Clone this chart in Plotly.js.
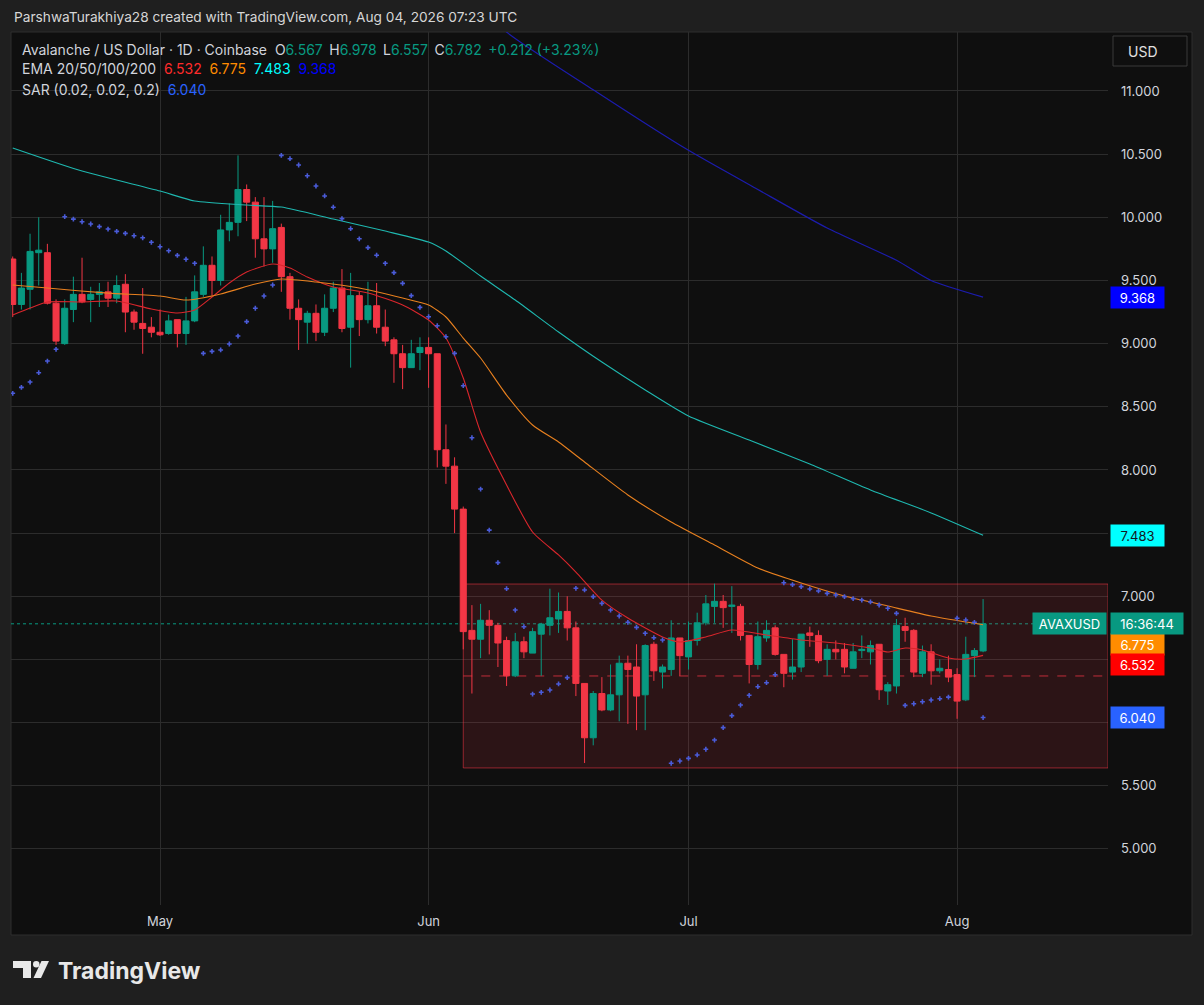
<!DOCTYPE html>
<html><head><meta charset="utf-8">
<script src="https://cdn.plot.ly/plotly-3.0.1.min.js"></script>
<style>html,body{margin:0;padding:0;background:#1f1f1f;}#chart{width:1204px;height:1005px;}</style>
</head><body><div id="chart"></div>
<script>
// ---------- DATA ----------
const firstDay = '2026-04-14';
const open  = [9.67,9.31,9.43,9.72,9.72,9.32,9.00,9.27,9.39,9.35,9.39,9.41,9.36,9.47,9.25,9.16,9.13,
 9.09,9.08,9.19,9.08,9.18,9.39,9.62,9.50,9.90,9.96,10.22,10.12,9.83,9.75,9.92,9.53,9.28,9.17,9.24,9.09,9.28,9.44,9.13,9.38,9.19,9.30,9.13,9.03,8.92,8.81,8.93,
 8.97,8.92,8.16,8.03,7.69,6.73,6.66,6.81,6.77,6.65,6.37,6.64,6.55,6.70,6.77,6.82,6.88,6.75,6.31,5.88,6.23,6.10,6.22,6.47,6.44,6.22,6.62,6.40,6.42,6.67,
 6.52,6.65,6.79,6.92,6.96,6.92,6.92,6.69,6.46,6.67,6.75,6.54,6.40,6.44,6.71,6.69,6.50,6.58,6.58,6.43,6.57,6.56,6.62,6.25,6.29,6.76,6.73,6.39,6.56,6.41,6.42,
 6.38,6.18,6.53,6.567];
const high  = [9.69,9.56,9.87,10.00,9.79,9.35,9.35,9.53,9.68,9.45,9.48,9.49,9.54,9.55,9.27,9.44,9.21,
 9.27,9.23,9.19,9.37,9.54,9.77,9.69,10.02,10.11,10.49,10.26,10.16,10.16,10.13,9.95,9.56,9.35,9.26,9.31,9.39,9.49,9.59,9.56,9.41,9.49,9.48,9.27,9.05,8.99,9.03,9.05,
 9.05,8.92,8.36,8.10,7.71,6.93,6.94,6.89,6.79,6.68,6.71,6.68,6.75,6.79,7.06,7.03,7.00,6.80,6.31,6.25,6.36,6.46,6.53,6.53,6.62,6.62,6.64,6.46,6.81,6.67,
 6.80,6.87,7.01,7.10,7.01,7.08,6.94,6.69,6.80,6.81,6.77,6.54,6.66,6.70,6.76,6.73,6.62,6.65,6.63,6.63,6.69,6.65,6.62,6.32,6.82,6.83,6.74,6.61,6.62,6.50,6.53,
 6.43,6.68,6.59,6.978];
const low   = [9.21,9.27,9.27,9.46,9.31,8.99,8.99,9.17,9.32,9.17,9.29,9.29,9.32,9.09,9.11,8.92,9.05,
 9.06,9.07,8.97,8.99,9.17,9.37,9.38,9.46,9.81,9.85,9.97,9.68,9.61,9.64,9.41,9.19,8.95,9.00,9.02,9.06,9.25,9.09,8.81,9.06,9.16,9.08,8.98,8.69,8.64,8.81,8.79,
 8.65,8.02,7.89,7.50,6.58,6.23,6.51,6.54,6.44,6.29,6.36,6.51,6.55,6.37,6.69,6.71,6.65,6.21,5.68,5.82,6.09,6.09,6.01,5.99,5.94,5.94,6.33,6.27,6.37,6.37,
 6.42,6.61,6.77,6.79,6.75,6.71,6.65,6.31,6.42,6.64,6.53,6.28,6.34,6.40,6.60,6.47,6.37,6.50,6.39,6.43,6.51,6.46,6.18,6.14,6.23,6.64,6.36,6.36,6.30,6.39,6.32,
 6.03,6.17,6.36,6.557];
const close = [9.31,9.44,9.73,9.74,9.32,9.02,9.28,9.39,9.33,9.39,9.41,9.36,9.46,9.25,9.17,9.12,9.09,
 9.07,9.18,9.08,9.18,9.41,9.62,9.50,9.90,9.96,10.22,10.12,9.83,9.75,9.91,9.53,9.28,9.19,9.24,9.09,9.28,9.44,9.12,9.38,9.19,9.30,9.13,9.02,8.92,8.81,8.92,8.97,
 8.92,8.16,8.03,7.69,6.72,6.66,6.81,6.77,6.63,6.37,6.64,6.56,6.72,6.78,6.83,6.88,6.75,6.31,5.88,6.23,6.10,6.22,6.47,6.42,6.21,6.61,6.41,6.44,6.67,6.53,
 6.65,6.79,6.94,6.96,6.91,6.93,6.69,6.46,6.68,6.73,6.54,6.39,6.44,6.70,6.69,6.49,6.58,6.56,6.44,6.56,6.58,6.61,6.26,6.30,6.77,6.73,6.40,6.56,6.41,6.43,6.36,
 6.17,6.54,6.57,6.782];
const sar = [8.607,8.654,8.696,8.77,8.862,8.955,10.005,9.986,9.965,9.947,9.926,9.907,9.889,9.873,9.854,9.838,9.802,
 9.767,9.735,9.699,9.668,9.636,8.923,8.939,8.95,8.997,9.06,9.174,9.28,9.377,9.464,10.49,10.464,10.414,10.329,10.248,10.169,10.08,9.99,9.91,9.83,9.76,9.70,9.636,9.562,9.477,9.38,9.287,
 9.213,9.142,9.055,8.923,8.667,8.255,7.849,7.524,7.266,7.06,6.891,6.759,6.226,6.24,6.258,6.306,6.356,7.063,7.05,6.997,6.944,6.891,6.844,6.794,6.754,6.707,6.672,6.654,5.678,5.696,
 5.717,5.744,5.789,5.862,5.96,6.055,6.139,6.216,6.284,6.316,6.379,7.107,7.092,7.076,7.058,7.042,7.023,7.01,6.997,6.981,6.97,6.955,6.931,6.905,6.865,6.136,6.149,6.165,6.179,6.189,6.202,
 6.826,6.812,6.794,6.04];

const ema20Dates = ['2026-04-14','2026-04-16','2026-04-18','2026-04-22','2026-04-26','2026-04-30','2026-05-03','2026-05-05','2026-05-07','2026-05-09','2026-05-11','2026-05-14','2026-05-16','2026-05-18','2026-05-21','2026-05-25','2026-05-29','2026-06-01','2026-06-03','2026-06-05','2026-06-07','2026-06-10','2026-06-13','2026-06-16','2026-06-18','2026-06-21','2026-06-24','2026-06-28','2026-06-30','2026-07-03','2026-07-06','2026-07-10','2026-07-14','2026-07-18','2026-07-22','2026-07-24','2026-07-26','2026-07-28','2026-07-31','2026-08-02','2026-08-04'];
const ema20 = [9.227,9.282,9.33,9.33,9.337,9.274,9.242,9.266,9.369,9.48,9.567,9.63,9.598,9.527,9.448,9.401,9.306,9.187,9.044,8.728,8.30,7.881,7.509,7.327,7.192,6.97,6.828,6.678,6.638,6.678,6.733,6.693,6.654,6.63,6.59,6.559,6.59,6.575,6.511,6.503,6.532];

const ema50Dates = ['2026-04-14','2026-04-18','2026-04-25','2026-05-01','2026-05-04','2026-05-08','2026-05-12','2026-05-15','2026-05-19','2026-05-24','2026-05-29','2026-06-01','2026-06-03','2026-06-05','2026-06-07','2026-06-10','2026-06-13','2026-06-16','2026-06-19','2026-06-24','2026-06-29','2026-07-04','2026-07-09','2026-07-14','2026-07-19','2026-07-24','2026-07-29','2026-08-04'];
const ema50 = [9.464,9.44,9.40,9.377,9.345,9.393,9.472,9.512,9.488,9.44,9.361,9.306,9.211,9.044,8.886,8.593,8.356,8.221,8.063,7.802,7.588,7.406,7.224,7.105,7.002,6.923,6.844,6.775];

const ema100Dates = ['2026-04-14','2026-04-22','2026-05-01','2026-05-05','2026-05-11','2026-05-15','2026-05-21','2026-05-27','2026-06-01','2026-06-03','2026-06-07','2026-06-11','2026-06-16','2026-06-21','2026-06-26','2026-07-01','2026-07-08','2026-07-15','2026-07-22','2026-07-29','2026-08-04'];
const ema100 = [10.549,10.366,10.208,10.129,10.097,10.081,9.986,9.891,9.804,9.733,9.535,9.345,9.092,8.854,8.633,8.427,8.237,8.047,7.841,7.66,7.483];

const ema200Dates = ['2026-06-06','2026-06-10','2026-06-20','2026-07-01','2026-07-09','2026-07-17','2026-07-25','2026-07-29','2026-08-04'];
const ema200 = [11.75,11.467,11.01,10.53,10.22,9.915,9.66,9.50,9.368];

const rangeStart = '2026-06-05', rangeTop = 7.097, rangeBottom = 5.641;
const lastPrice = 6.782, lastEma20 = 6.532, lastEma50 = 6.775, lastEma100 = 7.483, lastEma200 = 9.368, lastSar = 6.040;
const yTicks = [5,5.5,6,6.5,7,7.5,8,8.5,9,9.5,10,10.5,11];
const yTicksHidden = [6,6.5,7.5];   // covered by the price labels in the original

// ---------- BUILD ----------
const dates = [];
{ const d0 = new Date(firstDay + 'T00:00:00Z');
  for (let i = 0; i < open.length; i++) { const d = new Date(d0.getTime() + i*86400000); dates.push(d.toISOString().slice(0,10)); } }

const W = 1204, H = 1005, L = 11, R = 1108, T = 32, B = 905;
const px = x => (x - L) / (R - L);
const py = y => (B - y) / (B - T);
const FONT = 'Inter, "Noto Sans", sans-serif';
const GREEN = '#089981', RED = '#f23645';

const traces = [
 {type:'candlestick', x:dates, open, high, low, close,
  increasing:{line:{color:GREEN,width:1}, fillcolor:GREEN},
  decreasing:{line:{color:RED,width:1}, fillcolor:RED},
  whiskerwidth:0, hoverinfo:'skip', showlegend:false},
 {type:'scatter', mode:'lines', x:ema20Dates, y:ema20, line:{color:'#d9262c',width:1.1,shape:'spline',smoothing:0.6}, hoverinfo:'skip', showlegend:false},
 {type:'scatter', mode:'lines', x:ema50Dates, y:ema50, line:{color:'#e8801f',width:1.1,shape:'spline',smoothing:0.6}, hoverinfo:'skip', showlegend:false},
 {type:'scatter', mode:'lines', x:ema100Dates, y:ema100, line:{color:'#1fb8b0',width:1.1,shape:'spline',smoothing:0.6}, hoverinfo:'skip', showlegend:false},
 {type:'scatter', mode:'lines', x:ema200Dates, y:ema200, line:{color:'#1c1cae',width:1.2,shape:'spline',smoothing:0.6}, hoverinfo:'skip', showlegend:false},
 {type:'scatter', mode:'markers', x:dates, y:sar, marker:{symbol:'cross',size:4,color:'#4a5bd8',line:{width:0}}, hoverinfo:'skip', showlegend:false}
];

const ann = [];
const txt = (x, y, text, opts={}) => ann.push(Object.assign({xref:'paper', yref:'paper', x:px(x), y:py(y), text, showarrow:false,
  xanchor:'left', yanchor:'middle', font:{family:FONT, size:14, color:'#d1d4dc'}}, opts));
txt(12, 17, 'ParshwaTurakhiya28 created with TradingView.com, Aug 04, 2026 07:23 UTC', {font:{family:FONT,size:13.7,color:'#d6d6d6'}});
const g = s => `<span style="color:${GREEN}">${s}</span>`;
const sp = ' \u2009';
txt(20, 49, 'Avalanche / US Dollar · 1D · Coinbase  O' + g(open[open.length-1].toFixed(3)) + sp + 'H' + g(high[high.length-1].toFixed(3)) + sp + 'L' + g(low[low.length-1].toFixed(3)) + sp + 'C' + g(close[close.length-1].toFixed(3)) + sp + g('+0.212 (+3.23%)'));
txt(20, 69, 'EMA 20/50/100/200  <span style="color:#ff2b2b">' + lastEma20.toFixed(3) + '</span>  <span style="color:#ff8c00">' + lastEma50.toFixed(3) + '</span>  <span style="color:#00ffff">' + lastEma100.toFixed(3) + '</span>  <span style="color:#0000ff">' + lastEma200.toFixed(3) + '</span>');
txt(20, 89, 'SAR (0.02, 0.02, 0.2)  <span style="color:#2962ff">' + lastSar.toFixed(3) + '</span>');
txt(1126, 51, 'USD', {font:{family:FONT,size:14,color:'#e0e0e0'}});
txt(56, 971, '<b>TradingView</b>', {font:{family:FONT,size:23,color:'#e8e8e8'}});

const label = (val, bg, fg, yshift) => ann.push({xref:'paper', yref:'y', x:px(1110), y:val, yshift:yshift||0, text:val.toFixed(3), showarrow:false,
  xanchor:'left', yanchor:'middle', bgcolor:bg, width:47, height:15, borderpad:3, align:'center', font:{family:FONT,size:13,color:fg}});
label(lastEma200, '#0000ff', '#ffffff');
label(lastEma100, '#00ffff', '#131722');
label(lastEma50, '#ff8c00', '#ffffff', -20);
label(lastEma20, '#ff0000', '#ffffff', -9);
label(lastSar, '#2962ff', '#ffffff');
ann.push({xref:'paper', yref:'y', x:px(1107), y:lastPrice, text:'AVAXUSD', showarrow:false, xanchor:'right', yanchor:'middle', bgcolor:GREEN,
  width:67, height:15, borderpad:3, align:'center', font:{family:FONT,size:13,color:'#ffffff'}});
ann.push({xref:'paper', yref:'y', x:px(1110), y:lastPrice, text:'16:36:44', showarrow:false, xanchor:'left', yanchor:'middle', bgcolor:GREEN,
  width:66, height:15, borderpad:3, align:'center', font:{family:FONT,size:13,color:'#ffffff'}});

const shapes = [
 {type:'rect', xref:'paper', yref:'paper', x0:px(11), x1:px(1192), y0:py(935), y1:py(32), fillcolor:'#0f0f0f', line:{color:'#2e2e2e',width:1}, layer:'below'},
 {type:'rect', xref:'x', yref:'y', x0:rangeStart, x1:'2026-08-18 10:00', y0:rangeBottom, y1:rangeTop, fillcolor:'rgba(242,54,69,0.13)', line:{color:'rgba(242,54,69,0.55)',width:1}, layer:'between'},
 {type:'line', xref:'x', yref:'y', x0:rangeStart, x1:'2026-08-18 10:00', y0:(rangeTop+rangeBottom)/2, y1:(rangeTop+rangeBottom)/2, line:{color:'rgba(242,54,69,0.75)',width:1,dash:'dash'}, layer:'between'},
 {type:'line', xref:'paper', yref:'y', x0:0, x1:1, y0:lastPrice, y1:lastPrice, line:{color:GREEN,width:1,dash:'dot'}, layer:'between'},
 {type:'rect', xref:'paper', yref:'paper', x0:px(1113), x1:px(1187), y0:py(66), y1:py(36), line:{color:'#3a3a3a',width:1}, fillcolor:'rgba(0,0,0,0)'},
 {type:'rect', xref:'paper', yref:'paper', x0:px(13), x1:px(31), y0:py(968), y1:py(961), fillcolor:'#e8e8e8', line:{width:0}},
 {type:'rect', xref:'paper', yref:'paper', x0:px(23), x1:px(31), y0:py(978), y1:py(961), fillcolor:'#e8e8e8', line:{width:0}},
 {type:'circle', xref:'paper', yref:'paper', x0:px(33), x1:px(39.5), y0:py(967.5), y1:py(961), fillcolor:'#e8e8e8', line:{width:0}},
 {type:'path', xref:'paper', yref:'paper', path:`M ${px(41.5)} ${py(961)} L ${px(49)} ${py(961)} L ${px(41)} ${py(978)} L ${px(33.5)} ${py(978)} Z`, fillcolor:'#e8e8e8', line:{width:0}}
];

const layout = {
 width:W, height:H, margin:{l:L, r:W-R, t:T, b:H-B, pad:0},
 paper_bgcolor:'#1f1f1f', plot_bgcolor:'#0f0f0f', showlegend:false, hovermode:false,
 boxgap:0.3, boxgroupgap:0,
 xaxis:{type:'date', range:['2026-04-13 19:12','2026-08-18 10:00'], dtick:'M1', tick0:'2026-05-01', tickformat:'%b',
   showgrid:true, gridcolor:'#2c2c2c', gridwidth:1, zeroline:false, showline:false, ticks:'', ticklabelstandoff:7,
   tickfont:{family:FONT,size:13,color:'#d1d4dc'}, rangeslider:{visible:false}, fixedrange:true},
 yaxis:{side:'right', range:[4.556,11.467], tickvals:yTicks, ticktext:yTicks.map(v=>yTicksHidden.includes(v)?'':v.toFixed(3)),
   showgrid:true, gridcolor:'#2c2c2c', gridwidth:1, zeroline:false, showline:false, ticks:'', ticklabelstandoff:12,
   tickfont:{family:FONT,size:13,color:'#d1d4dc'}, fixedrange:true},
 annotations:ann, shapes:shapes
};
Plotly.newPlot('chart', traces, layout, {staticPlot:true, displayModeBar:false});
</script></body></html>
